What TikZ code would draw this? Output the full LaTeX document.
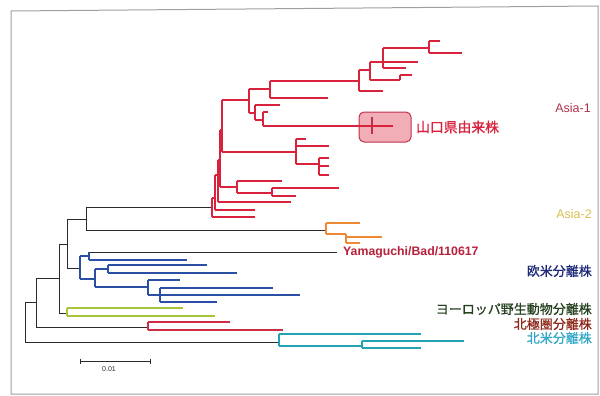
\documentclass[tikz,border=0pt]{standalone}
\usepackage{fontspec}
\setmainfont{Liberation Sans}
\newfontfamily\jp{Noto Sans CJK JP}[FakeBold=0.8]
\definecolor{cRed}{HTML}{D9223C}
\definecolor{cBlk}{HTML}{2A2A2A}
\definecolor{cOra}{HTML}{EE8A34}
\definecolor{cBlu}{HTML}{2C4FA6}
\definecolor{cGrn}{HTML}{A8C43A}
\definecolor{cArc}{HTML}{CC2E46}
\definecolor{cCya}{HTML}{23A2B2}
\definecolor{cBoxF}{HTML}{F0A0AA}
\definecolor{cBoxD}{HTML}{C0304A}
\definecolor{tAsiaA}{HTML}{B0304A}
\definecolor{tAsiaB}{HTML}{D8BE50}
\definecolor{tYam}{HTML}{B8203A}
\definecolor{tEU}{HTML}{1E2A78}
\definecolor{tWild}{HTML}{24401E}
\definecolor{tArc}{HTML}{8E2A1C}
\definecolor{tNA}{HTML}{34A8C8}
\begin{document}
\begin{tikzpicture}[x=1pt,y=-1pt,
  bk/.style={draw=cBlk,line width=0.9pt},
  rd/.style={draw=cRed,line width=1.7pt},
  og/.style={draw=cOra,line width=1.8pt},
  bl/.style={draw=cBlu,line width=1.8pt},
  gn/.style={draw=cGrn,line width=2.2pt},
  ar/.style={draw=cArc,line width=1.8pt},
  cy/.style={draw=cCya,line width=2pt},
  lab/.style={inner sep=0pt,font=\fontsize{12.5}{12.5}\selectfont},
  jlab/.style={inner sep=0pt,font=\jp\fontsize{13}{13}\selectfont}]
\useasboundingbox (0,0) rectangle (600,396);
% frame
\draw[gray!75,line width=1pt] (11,394) -- (11,11) -- (598,6) -- (598,394) -- cycle;
% highlight box
\draw[draw=cBoxD,fill=cBoxF,fill opacity=0.85,line width=1pt,rounded corners=5pt] (359,112) rectangle (411,142);
% backbone (black)
\draw[bk] (25,302) -- (25,342) (25,342) -- (279,342);
\draw[bk] (25,302) -- (36,302) (36,278) -- (36,327) (36,327) -- (148,327);
\draw[bk] (36,278) -- (59,278) (59,244) -- (59,313) (59,313) -- (67,313);
\draw[bk] (59,244) -- (67,244) (67,219) -- (67,268) (67,268) -- (80,268);
\draw[bk] (67,219) -- (86,219) (86,207) -- (86,230) (86,207) -- (212,207) (86,230) -- (326,230);
\draw[bk] (89,252) -- (337,252);
% Asia-1 (red)
\draw[rd] (212,198) -- (212,217) (212,217) -- (255,217);
\draw[rd] (212,198) -- (215,198) (215,175) -- (215,210) (215,210) -- (255,210);
\draw[rd] (215,175) -- (218,175) (218,160) -- (218,202) (218,202) -- (291,202);
\draw[rd] (218,160) -- (220,160) (220,130) -- (220,187) (220,187) -- (237,187);
\draw[rd] (220,130) -- (222,130) (222,100) -- (222,152) (222,152) -- (296,152) (222,100) -- (249,100);
\draw[rd] (249,89) -- (249,113) (249,89) -- (270,89) (249,113) -- (255,113);
\draw[rd] (270,81) -- (270,98) (270,81) -- (359,81) (270,98) -- (328,98);
\draw[rd] (359,70) -- (359,91) (359,70) -- (370,70) (359,91) -- (383,91);
\draw[rd] (370,62) -- (370,80) (370,62) -- (418,62) (370,80) -- (400,80);
\draw[rd] (383,48) -- (383,68) (383,48) -- (429,48) (383,68) -- (406,68);
\draw[rd] (429,41) -- (429,53) (429,41) -- (440,41) (429,53) -- (462,53);
\draw[rd] (400,75) -- (400,80) (400,75) -- (412,75);
\draw[rd] (255,105) -- (255,120) (255,105) -- (280,105) (255,120) -- (263,120);
\draw[rd] (263,112) -- (263,126) (263,112) -- (268,112) (263,126) -- (393,126);
\draw[cBoxD,line width=1.4pt] (372,117) -- (372,134);
\draw[rd] (296,139) -- (296,164) (296,139) -- (306,139) (296,146) -- (329,146) (296,164) -- (319,164);
\draw[rd] (319,158) -- (319,175) (319,158) -- (329,158) (319,166) -- (329,166) (319,175) -- (329,175);
\draw[rd] (237,181) -- (237,193) (237,181) -- (282,181) (237,193) -- (272,193);
\draw[rd] (272,188) -- (272,196) (272,188) -- (339,188) (272,196) -- (296,196);
% Asia-2 (orange)
\draw[og] (326,223) -- (326,234) (326,223) -- (360,223) (326,234) -- (346,234);
\draw[og] (346,234) -- (346,243) (346,237) -- (382,237) (346,243) -- (360,243);
% Europe/America (blue)
\draw[bl] (80,256) -- (80,279) (80,256) -- (89,256) (89,252) -- (89,260) (89,260) -- (187,260);
\draw[bl] (80,279) -- (95,279) (95,269) -- (95,287) (95,269) -- (108,269);
\draw[bl] (108,265) -- (108,273) (108,265) -- (207,265) (108,273) -- (237,273);
\draw[bl] (95,287) -- (148,287) (148,280) -- (148,295) (148,280) -- (180,280) (148,295) -- (160,295);
\draw[bl] (160,288) -- (160,302) (160,288) -- (273,288) (160,295) -- (300,295) (160,302) -- (217,302);
% European wildlife (green)
\draw[gn] (67,308) -- (67,316) (67,308) -- (183,308) (67,316) -- (215,316);
% Arctic (red)
\draw[ar] (148,322) -- (148,330) (148,322) -- (230,322) (148,330) -- (283,330);
% North America (cyan)
\draw[cy] (279,334) -- (279,346) (279,334) -- (421,334) (279,346) -- (362,346);
\draw[cy] (362,341) -- (362,348) (362,341) -- (464,341) (362,348) -- (421,348);
% scale bar
\draw[cBlk,line width=1pt] (80,358.5) -- (80,363.5) (80,361) -- (150,361) (150,358.5) -- (150,363.5);
\node[inner sep=0pt,font=\fontsize{7}{7}\selectfont,text=cBlk] (scl) at (109,369) {0.01};
% labels
\node[jlab,anchor=west,text=cRed,font=\jp\fontsize{13.8}{14}\selectfont] (ymg) at (416,127) {山口県由来株};
\node[lab,anchor=east,text=tAsiaA] (a1) at (591,108) {Asia-1};
\node[lab,anchor=east,text=tAsiaB] (a2) at (592,214) {Asia-2};
\node[lab,anchor=west,text=tYam,font=\bfseries\fontsize{12.3}{12.5}\selectfont] (yb) at (343,252) {Yamaguchi/Bad/110617};
\node[jlab,anchor=east,text=tEU] (eu) at (592,271) {欧米分離株};
\node[jlab,anchor=east,text=tWild] (wl) at (592,309) {ヨーロッパ野生動物分離株};
\node[jlab,anchor=east,text=tArc] (ac) at (592,324) {北極圏分離株};
\node[jlab,anchor=east,text=tNA] (na) at (592,338) {北米分離株};
\end{tikzpicture}
\end{document}
